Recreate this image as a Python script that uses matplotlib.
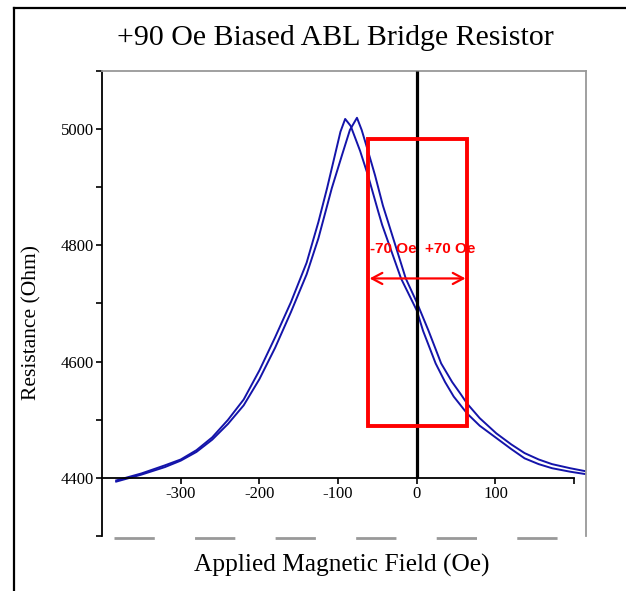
import matplotlib
matplotlib.use("Agg")
import matplotlib.pyplot as plt
from matplotlib.lines import Line2D
from matplotlib.patches import Rectangle

# --- data ---
# sweep A (peak near -91 Oe)
field_a = [-382, -350, -320, -300, -280, -260, -240, -220, -200, -180, -160,
           -140, -125, -114, -104, -97, -91, -84, -72, -62, -49, -44, -20,
           0, 8, 24, 36, 47, 64, 80, 101, 120, 137, 155, 172, 195, 214]
res_a = [4396, 4408, 4422, 4432, 4448, 4470, 4500, 4535, 4585, 4642, 4702,
         4770, 4840, 4898, 4955, 4995, 5017, 5005, 4962, 4920, 4858, 4835, 4743,
         4688, 4653, 4597, 4565, 4540, 4511, 4490, 4469, 4450, 4434, 4424, 4417, 4411, 4407]
# sweep B (peak near -76 Oe)
field_b = [-382, -350, -320, -300, -280, -260, -240, -220, -200, -180, -160,
           -140, -125, -108, -95, -85, -76, -70, -62, -53, -43, -36, -14,
           0, 15, 31, 45, 56, 64, 80, 101, 120, 137, 155, 172, 195, 214]
res_b = [4394, 4406, 4419, 4430, 4445, 4466, 4493, 4525, 4570, 4624, 4685,
         4750, 4812, 4898, 4955, 4998, 5019, 4998, 4962, 4920, 4868, 4838, 4743,
         4702, 4653, 4597, 4565, 4544, 4528, 4503, 4477, 4458, 4443, 4432, 4424, 4417, 4412]

x_ticks = [-300, -200, -100, 0, 100, 200]
x_labels = ["-300", "-200", "-100", "0", "100", ""]
y_ticks = [4300, 4400, 4500, 4600, 4700, 4800, 4900, 5000, 5100]
y_labels = ["", "4400", "", "4600", "", "4800", "", "5000", ""]

window = (-62, 64)       # red box field range
window_r = (4490, 4983)  # red box resistance range
arrow_y = 4743
label_y = 4793

serif = "Liberation Serif"
line_col = "#1414aa"
red = "#ff0000"

fig = plt.figure(figsize=(6.26, 5.91), dpi=100)
ax = fig.add_axes([0.163, 0.0925, 0.773, 0.788])

ax.plot(field_a, res_a, color=line_col, lw=1.4)
ax.plot(field_b, res_b, color=line_col, lw=1.4)

ax.set_xlim(-400, 215)
ax.set_ylim(4300, 5100)

# zero-field line
ax.vlines(0, 4400, 5100, color="black", lw=2.3, zorder=3)

# red window and arrow
ax.add_patch(Rectangle((window[0], window_r[0]), window[1] - window[0],
                       window_r[1] - window_r[0], fill=False, ec=red, lw=2.8, zorder=4))
ax.annotate("", xy=(window[0] + 2, arrow_y), xytext=(window[1] - 2, arrow_y),
            arrowprops=dict(arrowstyle="<->,head_length=0.75,head_width=0.4",
                            color=red, lw=1.6, shrinkA=0, shrinkB=0), zorder=5)
ax.text(window[0] + 3, label_y, "-70 Oe", color=red, fontsize=11, fontweight="bold",
        family="Liberation Sans", ha="left", va="center", zorder=5)
ax.text(11, label_y, "+70 Oe", color=red, fontsize=11, fontweight="bold",
        family="Liberation Sans", ha="left", va="center", zorder=5)

# spines
ax.spines["bottom"].set_position(("data", 4400))
ax.spines["bottom"].set_bounds(-400, 200)
ax.spines["bottom"].set_linewidth(1.3)
ax.spines["left"].set_linewidth(1.3)
for s in ["top", "right"]:
    ax.spines[s].set_color("#999999")
    ax.spines[s].set_linewidth(1.3)

# gray dashed lower boundary
ax.add_line(Line2D([0.025, 1.0], [-0.004, -0.004], transform=ax.transAxes, color="#999999",
                   lw=2, dashes=[14.5, 14.5], clip_on=False))

ax.set_xticks(x_ticks)
ax.set_xticklabels(x_labels)
ax.set_yticks(y_ticks)
ax.set_yticklabels(y_labels)
ax.tick_params(direction="out", length=4, width=1.2, labelsize=12, pad=2)
for lab in ax.get_xticklabels() + ax.get_yticklabels():
    lab.set_family(serif)

fig.text(0.535, 0.935, "+90 Oe Biased ABL Bridge Resistor", family=serif,
         fontsize=21.5, ha="center", va="center")
fig.text(0.051, 0.455, "Resistance (Ohm)", family=serif, fontsize=15.5,
         rotation=90, ha="center", va="center")
fig.text(0.546, 0.044, "Applied Magnetic Field (Oe)", family=serif, fontsize=18.3,
         ha="center", va="center")

# outer frame
fig.add_artist(Line2D([0.022, 0.022], [0, 0.986], color="black", lw=1.6))
fig.add_artist(Line2D([0.022, 1.0], [0.986, 0.986], color="black", lw=1.6))

fig.savefig("out.png", dpi=100)
plt.close(fig)
